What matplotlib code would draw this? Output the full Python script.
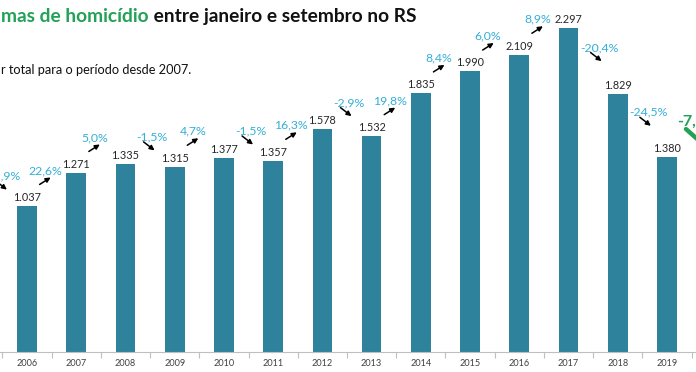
import matplotlib
matplotlib.use('Agg')
import matplotlib.pyplot as plt
import numpy as np
from matplotlib.patches import FancyArrowPatch

plt.rcParams['font.family'] = ['Lato', 'DejaVu Sans']

# ---- data ----
years = ['2005', '2006', '2007', '2008', '2009', '2010', '2011', '2012',
         '2013', '2014', '2015', '2016', '2017', '2018', '2019']
values = [1057, 1037, 1271, 1335, 1315, 1377, 1357, 1578,
          1532, 1835, 1990, 2109, 2297, 1829, 1380]
value_labels = ['1.057', '1.037', '1.271', '1.335', '1.315', '1.377', '1.357', '1.578',
                '1.532', '1.835', '1.990', '2.109', '2.297', '1.829', '1.380']
pct_labels = ['-1,9%', '22,6%', '5,0%', '-1,5%', '4,7%', '-1,5%', '16,3%',
              '-2,9%', '19,8%', '8,4%', '6,0%', '8,9%', '-20,4%', '-24,5%']
next_pct_label = '-7,1%'
title_green = 'mas de homicídio'
title_black = ' entre janeiro e setembro no RS'
subtitle = 'r total para o período desde 2007.'

# ---- style ----
BAR = '#2E829B'
PCT = '#35AFD6'
GREEN = '#23A257'
W, H = 696, 372
fig = plt.figure(figsize=(W / 100, H / 100), dpi=100)
base_px = 20
ax = fig.add_axes([0, base_px / H, 1, 1 - base_px / H])

x = np.arange(len(years)) - 1.0          # 2006 sits at 0
step_px = 49.23
first_px = 27.0
xlim = (-first_px / step_px, (W - first_px) / step_px)
ytop = max(values) * 352 / 324
px_x = 1 / step_px
px_y = ytop / (H - base_px)

ax.bar(x, values, width=0.40, color=BAR, zorder=2)

for xi, v, lab in zip(x, values, value_labels):
    if xlim[0] <= xi <= xlim[1]:
        ax.text(xi, v + 3 * px_y, lab, ha='center', va='bottom', fontsize=7.8,
                color='#262626')

# axis line and ticks
for s in ['top', 'right', 'left']:
    ax.spines[s].set_visible(False)
ax.spines['bottom'].set_color('#BFBFBF')
ax.spines['bottom'].set_linewidth(0.8)
ax.set_yticks([])
ax.set_xticks(x)
ax.set_xticklabels(years, fontsize=6.6, color='#404040')
ax.tick_params(axis='x', which='major', length=0, pad=5)
ax.set_xticks(np.append(x - 0.5, x[-1] + 0.5), minor=True)
ax.tick_params(axis='x', which='minor', length=4, color='#BFBFBF', width=0.8)

# percentage labels with arrows
for k, lab in enumerate(pct_labels, start=1):
    frm, to = values[k - 1], values[k]
    xm = (x[k - 1] + x[k]) / 2
    if to >= frm:
        tx = xm - 6.5 * px_x
        ty = frm + 250
        a0 = (tx - 5.5 * px_x, ty - 14 * px_y)
        a1 = (tx + 5.5 * px_x, ty - 7 * px_y)
    else:
        if (frm - to) / frm < 0.1:
            tx = xm + 2 * px_x
            ty = frm + 190
        else:
            tx = xm + 6 * px_x
            ty = (frm + to) / 2 + 95
        a0 = (tx - 8.5 * px_x, ty - 5 * px_y)
        a1 = (tx + 2.5 * px_x, ty - 13.5 * px_y)
    ax.text(tx, ty, lab, ha='center', va='center', fontsize=8.8, color=PCT)
    ax.add_patch(FancyArrowPatch(a0, a1, arrowstyle='-|>', mutation_scale=7,
                                 lw=1.1, color='black', shrinkA=0, shrinkB=0))

# trailing green label (next period)
gx = x[-1] + 10 * px_x
gy = values[-1] + 250
ax.text(gx, gy, next_pct_label, ha='left', va='center', fontsize=11.5,
        fontweight='bold', color=GREEN)
ax.add_patch(FancyArrowPatch((x[-1] + 19 * px_x, gy - 7 * px_y),
                             (x[-1] + 45 * px_x, gy - 30 * px_y),
                             arrowstyle='-|>', mutation_scale=14, lw=3.2,
                             color=GREEN, shrinkA=0, shrinkB=0, clip_on=False))

ax.set_xlim(*xlim)
ax.set_ylim(0, ytop)

# title and subtitle
t1 = fig.text(1 / W, 1 - 25 / H, title_green, ha='left', va='bottom',
              fontsize=13.8, fontweight='bold', color=GREEN)
ax.annotate(title_black, xy=(1, 0), xycoords=t1, ha='left', va='bottom',
            fontsize=13.8, fontweight='bold', color='#111111',
            annotation_clip=False)
fig.text(1 / W, 1 - 70 / H, subtitle, ha='left', va='center', fontsize=9.2,
         color='#111111')

fig.savefig('out.png', dpi=100)
